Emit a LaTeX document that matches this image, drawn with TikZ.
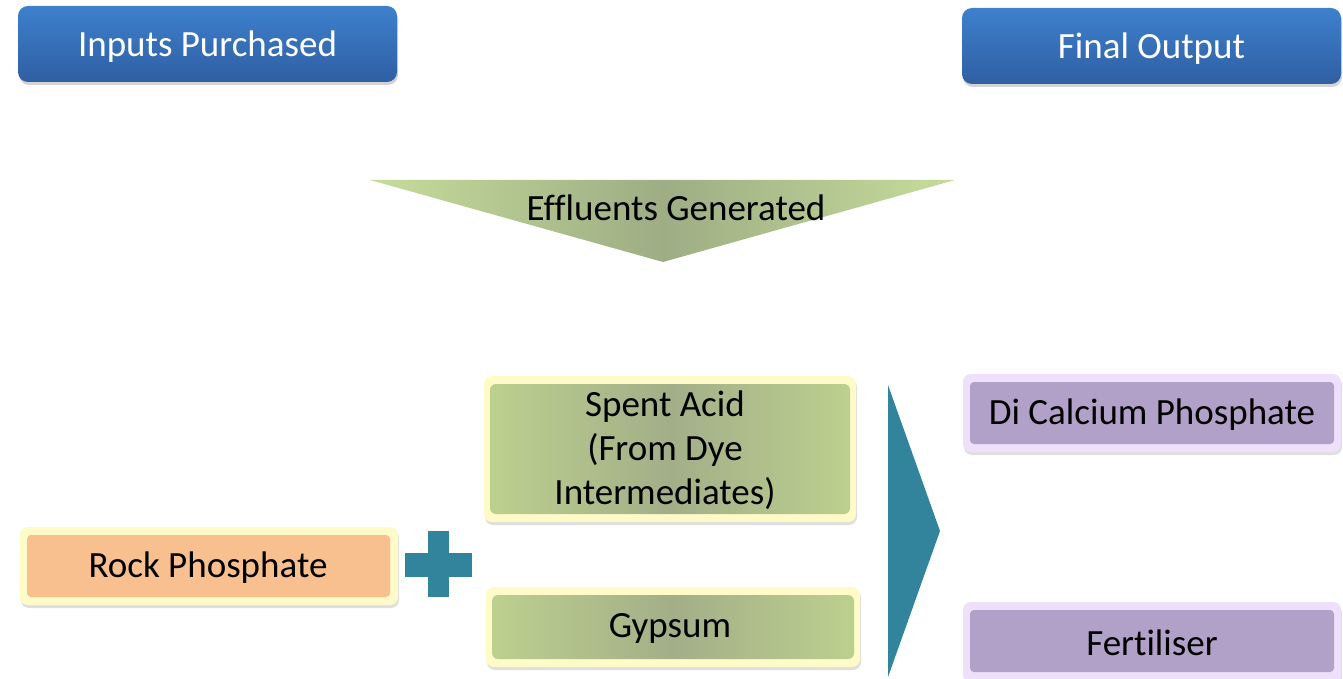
\documentclass[tikz,border=0pt]{standalone}
\usepackage{fontspec}
\setmainfont{Carlito}[Ligatures=NoCommon]
\usetikzlibrary{shadows}
\definecolor{blueTop}{HTML}{3E80CD}
\definecolor{blueBot}{HTML}{2F5FA3}
\definecolor{teal}{HTML}{31849B}
\definecolor{glowY}{HTML}{FFFBC8}
\definecolor{glowP}{HTML}{EEDFFA}
\definecolor{orangeF}{HTML}{F9C08F}
\definecolor{purpleF}{HTML}{B1A0C7}
\definecolor{greenE}{HTML}{BCD08E}
\definecolor{greenM}{HTML}{A3AE88}
\definecolor{triE}{HTML}{C6DC9A}
\definecolor{triM}{HTML}{9EAD84}
\tikzset{
  txt/.style={font=\fontsize{37}{44}\selectfont, align=center, inner sep=0pt},
  bluebox/.style={rounded corners=10pt, top color=blueTop, bottom color=blueBot, draw=none,
     drop shadow={shadow xshift=1pt, shadow yshift=-3pt, opacity=0.35}},
  glowY/.style={rounded corners=8pt, fill=glowY,
     drop shadow={shadow xshift=1pt, shadow yshift=-3pt, opacity=0.25}},
  glowP/.style={rounded corners=8pt, fill=glowP,
     drop shadow={shadow xshift=1pt, shadow yshift=-3pt, opacity=0.25}},
  greenfill/.style={rounded corners=6pt, left color=greenE, right color=greenE, middle color=greenM},
}
\begin{document}
\begin{tikzpicture}[x=1pt,y=-1pt]
\useasboundingbox (0,0) rectangle (1343,679);
% header boxes
\path[bluebox] (18,6) rectangle (397,82);
\node[txt, text=white] (inputs) at (207.5,47) {Inputs Purchased};
\path[bluebox] (962,8) rectangle (1341,84);
\node[txt, text=white] (final) at (1151.5,49) {Final Output};
% effluents triangle
\path[left color=triE, right color=triE, middle color=triM] (370,180) -- (955,180) -- (663,262) -- cycle;
\node[txt] (effl) at (676,208) {Effluents Generated};
% rock phosphate
\path[glowY] (20,527) rectangle (398,605);
\path[fill=orangeF, rounded corners=4pt] (27,535) rectangle (390,597);
\node[txt] (rock) at (208,568) {Rock Phosphate};
% plus
\fill[teal] (405,553) rectangle (472,577);
\fill[teal] (428,531) rectangle (449,597);
\coordinate (plus) at (438,565);
% spent acid
\path[glowY] (484,376) rectangle (856,522);
\path[greenfill] (490,384) rectangle (850,514);
\node[txt] (spent) at (665,450) {Spent Acid\\(From Dye\\Intermediates)};
% gypsum
\path[glowY] (486,587) rectangle (860,667);
\path[greenfill] (492,595) rectangle (854,659);
\node[txt] (gyp) at (670,628) {Gypsum};
% big chevron
\fill[teal] (888,385) -- (940,531) -- (888,677) -- cycle;
% outputs
\path[glowP] (963,374) rectangle (1341,452);
\path[fill=purpleF, rounded corners=4pt] (970,382) rectangle (1334,444);
\node[txt] (dcp) at (1152,415) {Di Calcium Phosphate};
\path[glowP] (963,602) rectangle (1341,683);
\path[fill=purpleF, rounded corners=4pt] (970,610) rectangle (1334,672);
\node[txt] (fert) at (1152,643) {Fertiliser};
\end{tikzpicture}
\end{document}
